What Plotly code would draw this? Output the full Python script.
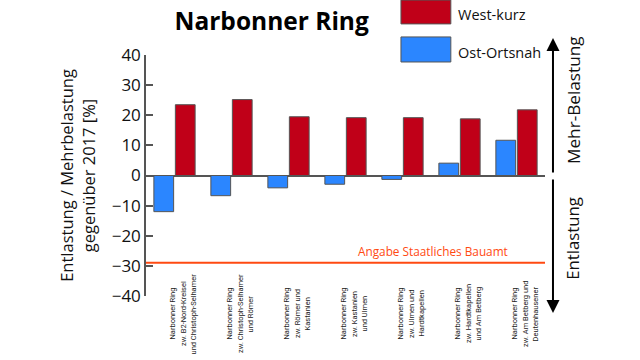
import plotly.graph_objects as go

categories = ["Abschnitt 1", "Abschnitt 2", "Abschnitt 3", "Abschnitt 4",
              "Abschnitt 5", "Abschnitt 6", "Abschnitt 7"]
category_labels = [
    ["Narbonner Ring", "zw. B2-Nord-Kreisel", "und Christoph-Selhamer"],
    ["Narbonner Ring", "zw. Christoph-Selhamer", "und Römer"],
    ["Narbonner Ring", "zw. Römer und", "Kastanien"],
    ["Narbonner Ring", "zw. Kastanien", "und Ulmen"],
    ["Narbonner Ring", "zw. Ulmen und", "Hardtkapellen"],
    ["Narbonner Ring", "zw. Hardtkapellen", "und Am Betberg"],
    ["Narbonner Ring", "zw. Am Betberg und", "Deutenhausener"],
]
ost_ortsnah = [-12.0, -6.7, -4.1, -2.9, -1.3, 4.1, 11.7]
west_kurz = [23.5, 25.2, 19.5, 19.2, 19.2, 18.8, 21.8]
threshold = -29
threshold_label = "Angabe Staatliches Bauamt"
y_ticks = [40, 30, 20, 10, 0, -10, -20, -30, -40]

BLUE = "#2B86FF"
RED = "#C00018"
ORANGE = "#FF4A12"
GRAY = "#555555"
FONT = "Open Sans, Noto Sans, sans-serif"

fig = go.Figure()
fig.add_trace(go.Bar(x=categories, y=ost_ortsnah, name="Ost-Ortsnah",
                     marker=dict(color=BLUE, line=dict(color=GRAY, width=1))))
fig.add_trace(go.Bar(x=categories, y=west_kurz, name="West-kurz",
                     marker=dict(color=RED, line=dict(color=GRAY, width=1))))

shapes = [dict(type="line", xref="paper", yref="y", x0=0, x1=1,
               y0=threshold, y1=threshold, line=dict(color=ORANGE, width=2))]
ann = []
ann.append(dict(xref="paper", x=0.912, yref="y", y=threshold, xanchor="right",
                yanchor="bottom", yshift=2, showarrow=False, text=threshold_label,
                font=dict(family=FONT, size=11.8, color=ORANGE)))

# category labels (rotated, three lines each)
for i, lines in enumerate(category_labels):
    for j, line in enumerate(lines):
        ann.append(dict(xref="x", x=categories[i], yref="paper", y=-0.0747,
                        xanchor="center", yanchor="middle", textangle=-90,
                        xshift=-2 + 10.5 * j, showarrow=False, text=line,
                        font=dict(family="Liberation Sans Narrow, Roboto, sans-serif",
                                  size=7.5, color="#222")))

# legend boxes
legend_items = [("West-kurz", RED, 1.129, 1.228, 1.166),
                ("Ost-Ortsnah", BLUE, 0.971, 1.075, 1.012)]
for name, col, y0, y1, ty in legend_items:
    shapes.append(dict(type="rect", xref="paper", yref="paper", x0=0.639, x1=0.764,
                       y0=y0, y1=y1, fillcolor=col, line=dict(color=GRAY, width=1)))
    ann.append(dict(xref="paper", yref="paper", x=0.777, y=ty, xanchor="left",
                    yanchor="middle", showarrow=False, text=name,
                    font=dict(family=FONT, size=14.5, color="#111")))

# right arrows
ann.append(dict(xref="paper", yref="paper", x=1.020, y=1.071, ax=0, ay=136,
                axref="pixel", ayref="pixel", text="", showarrow=True,
                arrowhead=2, arrowsize=1.3, arrowwidth=2, arrowcolor="#000"))
ann.append(dict(xref="paper", yref="paper", x=1.020, y=-0.0705, ax=0, ay=-135,
                axref="pixel", ayref="pixel", text="", showarrow=True,
                arrowhead=2, arrowsize=1.3, arrowwidth=2, arrowcolor="#000"))
ann.append(dict(xref="paper", yref="paper", x=1.070, y=0.813, textangle=-90,
                xanchor="center", yanchor="middle", showarrow=False,
                text="Mehr-Belastung", font=dict(family=FONT, size=17.2, color="#111")))
ann.append(dict(xref="paper", yref="paper", x=1.070, y=0.241, textangle=-90,
                xanchor="center", yanchor="middle", showarrow=False,
                text="Entlastung", font=dict(family=FONT, size=16.8, color="#111")))

fig.update_layout(
    width=640, height=360,
    margin=dict(l=146, r=95, t=55, b=64, autoexpand=False),
    paper_bgcolor="white", plot_bgcolor="white",
    barmode="group", bargap=0.246, bargroupgap=0.08,
    showlegend=False,
    title=dict(text="<b>Narbonner Ring</b>", x=0.4245, xanchor="center",
               y=0.9417, yanchor="middle", yref="container",
               font=dict(family=FONT, size=24.5, color="#000")),
    font=dict(family=FONT, color="#111"),
)
fig.layout.shapes = shapes
fig.layout.annotations = ann
fig.update_xaxes(range=[-0.5, 6.5], showticklabels=False, showline=False,
                 showgrid=False, zeroline=False, ticks="", automargin=False)
fig.update_yaxes(range=[-40, 40], tickvals=y_ticks, ticks="inside", ticklen=7,
                 tickcolor=GRAY, tickwidth=1.5, showline=True, linecolor=GRAY,
                 linewidth=1.5, showgrid=False, zeroline=True, zerolinecolor=GRAY,
                 zerolinewidth=1.5, automargin=False,
                 tickfont=dict(family=FONT, size=17, color="#111"),
                 title=dict(text="Entlastung / Mehrbelastung<br>gegenüber 2017 [%]",
                            standoff=12, font=dict(family=FONT, size=16.5, color="#111")))

fig.write_html("out.html", config={"displayModeBar": False},
               post_script="document.body.style.margin='0';document.body.style.overflow='hidden';")
